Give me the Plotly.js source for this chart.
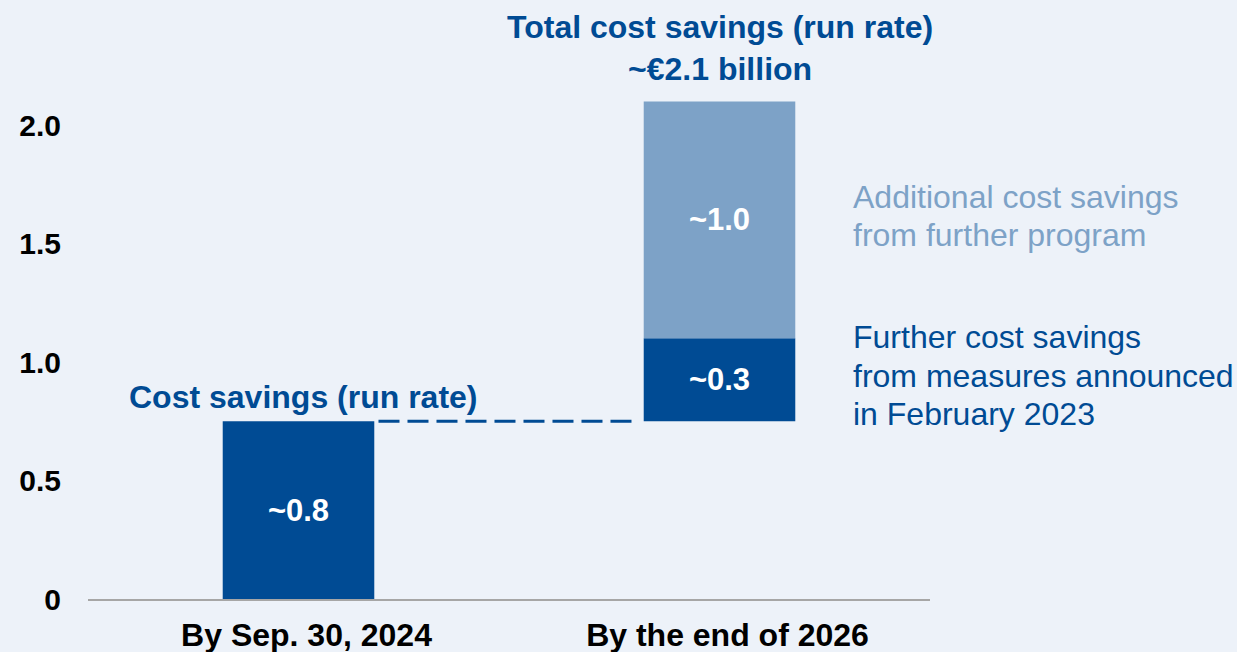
<!DOCTYPE html>
<html>
<head>
<meta charset="utf-8">
<script src="https://cdn.plot.ly/plotly-3.0.1.min.js"></script>
<style>
  html, body { margin: 0; padding: 0; background: #EDF2F9; }
  #chart { width: 1237px; height: 652px; }
</style>
</head>
<body>
<div id="chart"></div>
<script>
var categories = ['By Sep. 30, 2024', 'By the end of 2026'];

// dark blue: run rate so far + measures announced Feb 2023
var measuresBase = [0, 0.75];
var measuresValues = [0.75, 0.35];
var measuresLabels = ['~0.8', '~0.3'];

// light blue: further program
var furtherCats = ['By the end of 2026'];
var furtherBase = [1.1];
var furtherValues = [1.0];
var furtherLabels = ['~1.0'];

var yTicks = [0, 0.5, 1, 1.5, 2];
var yTickText = ['0', '0.5', '1.0', '1.5', '2.0'];

var furtherNote = ['Additional cost savings', 'from further program'];
var measuresNote = ['Further cost savings', 'from measures announced', 'in February 2023'];

var darkBlue = '#004B94';
var lightBlue = '#7DA2C7';
var font = 'Liberation Sans, Arial, sans-serif';
var barWidth = 0.36;

var traces = [
    {
        type: 'bar',
        x: categories,
        y: measuresValues,
        base: measuresBase,
        width: barWidth,
        marker: {color: darkBlue},
        text: measuresLabels,
        textposition: 'inside',
        insidetextanchor: 'middle',
        textangle: 0,
        textfont: {family: font, size: 31, color: '#ffffff', weight: 'bold'},
        hoverinfo: 'skip'
    },
    {
        type: 'bar',
        x: furtherCats,
        y: furtherValues,
        base: furtherBase,
        width: barWidth,
        marker: {color: lightBlue},
        text: furtherLabels,
        textposition: 'inside',
        insidetextanchor: 'middle',
        textangle: 0,
        textfont: {family: font, size: 31, color: '#ffffff', weight: 'bold'},
        hoverinfo: 'skip'
    }
];

// top of the first bar, carried over to the second
var carry = measuresBase[0] + measuresValues[0];
var topTotal = furtherBase[0] + furtherValues[0];

var annotations = [
    {
        xref: 'x', yref: 'y',
        x: categories[1], y: topTotal,
        yanchor: 'bottom', yshift: 12,
        text: '<b>Total cost savings (run rate)<br>~€2.1 billion</b>',
        showarrow: false,
        font: {family: font, size: 32, color: darkBlue}
    },
    {
        xref: 'x', yref: 'y',
        x: categories[0], y: carry,
        xshift: 5,
        yanchor: 'bottom', yshift: 4,
        text: '<b>Cost savings (run rate)</b>',
        showarrow: false,
        font: {family: font, size: 32, color: darkBlue}
    }
];

// side notes, one annotation per line so the line spacing can be tightened
function addNote(lines, yMid, color) {
    lines.forEach(function (line, i) {
        annotations.push({
            xref: 'paper', yref: 'y',
            x: 0.906, y: yMid,
            xanchor: 'left', yanchor: 'middle', align: 'left',
            yshift: ((lines.length - 1) / 2 - i) * 38.5 + 4,
            text: line,
            showarrow: false,
            font: {family: font, size: 32, color: color}
        });
    });
}
addNote(furtherNote, furtherBase[0] + furtherValues[0] / 2, lightBlue);
addNote(measuresNote, measuresBase[1] + measuresValues[1] / 2, darkBlue);

var layout = {
    width: 1237,
    height: 652,
    margin: {l: 88, r: 307, t: 54, b: 53},
    paper_bgcolor: '#EDF2F9',
    plot_bgcolor: '#EDF2F9',
    showlegend: false,
    barmode: 'overlay',
    font: {family: font, color: '#000000'},
    xaxis: {
        type: 'category',
        range: [-0.5, 1.5],
        showline: true,
        linecolor: '#A6A6A6',
        linewidth: 2,
        showgrid: false,
        zeroline: false,
        ticks: '',
        ticklabelshift: 8,
        ticklabelstandoff: 7,
        tickfont: {family: font, size: 32, color: '#000000', weight: 'bold'},
        fixedrange: true
    },
    yaxis: {
        range: [0, 2.3],
        tickvals: yTicks,
        ticktext: yTickText,
        showline: false,
        showgrid: false,
        zeroline: false,
        ticks: '',
        ticklabelstandoff: 26,
        tickfont: {family: font, size: 30, color: '#000000', weight: 'bold'},
        fixedrange: true
    },
    shapes: [
        {
            type: 'line',
            xref: 'x', yref: 'y',
            x0: barWidth / 2 + 0.01, x1: 1 - barWidth / 2 - 0.02,
            y0: carry, y1: carry,
            line: {color: darkBlue, width: 3, dash: '21px,8px'}
        }
    ],
    annotations: annotations
};

Plotly.newPlot('chart', traces, layout, {displayModeBar: false, staticPlot: true});
</script>
</body>
</html>
